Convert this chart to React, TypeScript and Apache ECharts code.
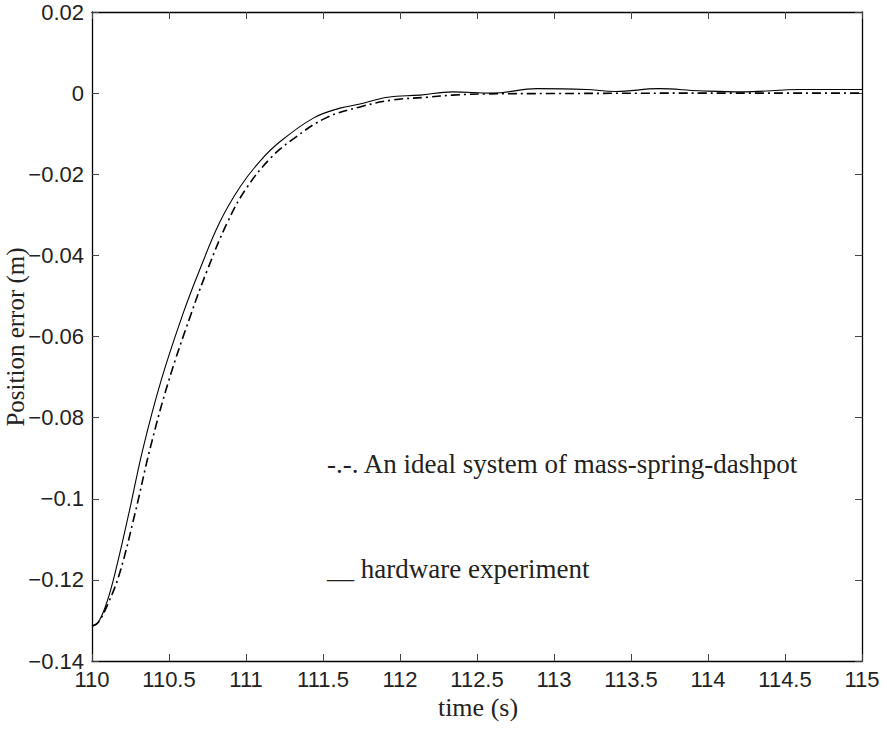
import React, { useEffect, useRef } from "react";
import * as echarts from "echarts";

const xTicks = [110, 110.5, 111, 111.5, 112, 112.5, 113, 113.5, 114, 114.5, 115];
const yTicks = [-0.14, -0.12, -0.1, -0.08, -0.06, -0.04, -0.02, 0, 0.02];

const hardwareTime = [
  110.0, 110.04, 110.095, 110.15, 110.24, 110.33, 110.45, 110.59, 110.7, 110.83,
  110.96, 111.09, 111.22, 111.44, 111.61, 111.74, 111.92, 112.13, 112.34, 112.6,
  112.89, 113.21, 113.4, 113.68, 113.94, 114.22, 114.6, 115.0,
];
const hardwareError = [
  -0.1314, -0.1305, -0.1257, -0.1183, -0.1035, -0.0878, -0.0707, -0.0545, -0.0435, -0.0318,
  -0.0232, -0.0168, -0.012, -0.0061, -0.0037, -0.0027, -0.001, -0.0005, 0.0003, 0.0,
  0.0011, 0.0009, 0.0004, 0.0011, 0.0006, 0.0003, 0.0009, 0.0009,
];

const idealTime = [
  110.0, 110.04, 110.106, 110.18, 110.28, 110.38, 110.5, 110.64, 110.75, 110.88,
  111.0, 111.16, 111.31, 111.52, 111.74, 111.95, 112.18, 112.34, 112.55, 113.0,
  114.0, 115.0,
];
const idealError = [
  -0.1314, -0.1305, -0.1257, -0.1183, -0.1035, -0.0872, -0.0707, -0.0548, -0.0435, -0.0318,
  -0.0236, -0.016, -0.0112, -0.0061, -0.0034, -0.0017, -0.001, -0.0005, -0.0002, -0.0001,
  0.0, 0.0,
];

const legendIdeal = "-.-. An ideal system of mass-spring-dashpot";
const legendHardware = "__ hardware experiment";
const xName = "time (s)";
const yName = "Position error (m)";

const fmt = (v: number) => {
  const s = String(Number(v.toFixed(2)));
  return s.replace("-", "\u2212");
};

export default function App() {
  const ref = useRef<HTMLDivElement>(null);
  useEffect(() => {
    if (!ref.current) return;
    const chart = echarts.init(ref.current, undefined, { renderer: "svg" });
    const sans = "Liberation Sans, Arial, Helvetica, sans-serif";
    const serif = "Liberation Serif, Times New Roman, serif";
    const axisCommon = {
      type: "value" as const,
      axisLine: { show: true, onZero: false, lineStyle: { color: "#000", width: 1.3 } },
      axisTick: { show: true, inside: true, length: 7, lineStyle: { color: "#444", width: 1 } },
      splitLine: { show: false },
    };
    chart.setOption({
      animation: false,
      backgroundColor: "#fff",
      grid: { left: 92, right: 25, top: 12, bottom: 74, containLabel: false },
      xAxis: [
        {
          ...axisCommon,
          position: "bottom",
          min: xTicks[0],
          max: xTicks[xTicks.length - 1],
          interval: 0.5,
          axisLabel: { show: true, formatter: fmt, color: "#222", fontFamily: sans, fontSize: 22, margin: 7 },
        },
        {
          ...axisCommon,
          position: "top",
          min: xTicks[0],
          max: xTicks[xTicks.length - 1],
          interval: 0.5,
          axisLabel: { show: false },
        },
      ],
      yAxis: [
        {
          ...axisCommon,
          position: "left",
          min: yTicks[0],
          max: yTicks[yTicks.length - 1],
          interval: 0.02,
          axisLabel: { show: true, formatter: fmt, color: "#222", fontFamily: sans, fontSize: 22, margin: 8 },
        },
        {
          ...axisCommon,
          position: "right",
          min: yTicks[0],
          max: yTicks[yTicks.length - 1],
          interval: 0.02,
          axisLabel: { show: false },
        },
      ],
      series: [
        {
          type: "line",
          name: "ideal",
          xAxisIndex: 0,
          yAxisIndex: 0,
          data: idealTime.map((t, i) => [t, idealError[i]]),
          showSymbol: false,
          smooth: 0.4,
          lineStyle: { color: "#000", width: 1.6, type: [9, 4, 2, 4] },
        },
        {
          type: "line",
          name: "hardware",
          xAxisIndex: 0,
          yAxisIndex: 0,
          data: hardwareTime.map((t, i) => [t, hardwareError[i]]),
          showSymbol: false,
          smooth: 0.4,
          lineStyle: { color: "#000", width: 1.1, type: "solid" },
        },
      ],
      graphic: [
        {
          type: "text",
          x: 478,
          y: 707,
          style: { text: xName, font: `26px ${serif}`, fill: "#222", align: "center", verticalAlign: "middle" },
        },
        {
          type: "text",
          x: 15,
          y: 337,
          rotation: Math.PI / 2,
          style: { text: yName, font: `25px ${serif}`, fill: "#222", align: "center", verticalAlign: "middle" },
        },
        {
          type: "text",
          x: 327,
          y: 464,
          style: { text: legendIdeal, font: `27px ${serif}`, fill: "#222", align: "left", verticalAlign: "middle" },
        },
        {
          type: "text",
          x: 327,
          y: 569,
          style: { text: legendHardware, font: `27px ${serif}`, fill: "#222", align: "left", verticalAlign: "middle" },
        },
      ],
    });
    return () => chart.dispose();
  }, []);
  return <div ref={ref} style={{ width: 887, height: 735, position: "absolute", left: 0, top: 0 }} />;
}
